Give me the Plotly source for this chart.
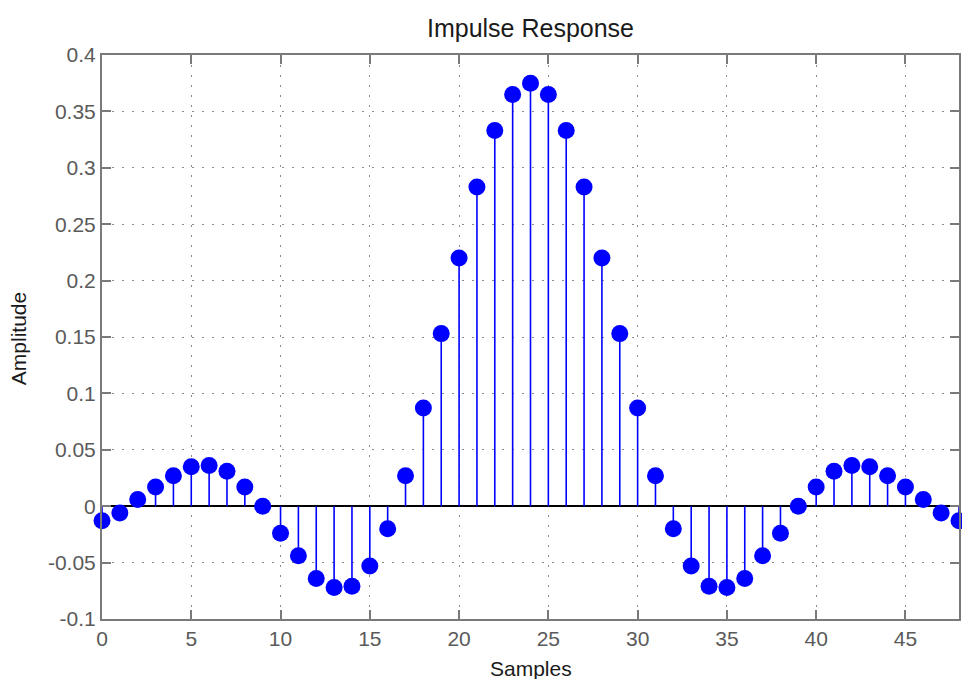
import plotly.graph_objects as go

samples = list(range(49))
half = [-0.013, -0.006, 0.006, 0.017, 0.027, 0.035, 0.036, 0.031, 0.017, 0.000,
        -0.024, -0.044, -0.064, -0.072, -0.071, -0.053, -0.020, 0.027, 0.087,
        0.153, 0.220, 0.283, 0.333, 0.365, 0.375]
amplitude = half + half[-2::-1]

x_ticks = [0, 5, 10, 15, 20, 25, 30, 35, 40, 45]
y_ticks = [-0.1, -0.05, 0, 0.05, 0.1, 0.15, 0.2, 0.25, 0.3, 0.35, 0.4]
y_labels = ["-0.1", "-0.05", "0", "0.05", "0.1", "0.15", "0.2", "0.25", "0.3", "0.35", "0.4"]

stem_x, stem_y = [], []
for xi, yi in zip(samples, amplitude):
    stem_x += [xi, xi, None]
    stem_y += [0, yi, None]

fig = go.Figure()
fig.add_trace(go.Scatter(x=stem_x, y=stem_y, mode="lines",
                         line=dict(color="#0000ff", width=1.6),
                         hoverinfo="skip", showlegend=False, cliponaxis=False))
fig.add_trace(go.Scatter(x=samples, y=amplitude, mode="markers",
                         marker=dict(color="#0000ff", size=17, line=dict(width=0)),
                         showlegend=False, cliponaxis=False))

font = "Liberation Sans, Arial, sans-serif"
axis_common = dict(showline=True, linecolor="#7a7a7a", linewidth=2, mirror="ticks",
                   ticks="inside", ticklen=9, tickwidth=2, tickcolor="#7a7a7a",
                   showgrid=True, gridcolor="#8a8a8a", gridwidth=1, griddash="2px,8px",
                   tickfont=dict(family=font, size=21, color="#5a5a5a"))

fig.update_layout(
    width=962, height=679,
    margin=dict(l=102, r=1, t=55, b=60),
    paper_bgcolor="white", plot_bgcolor="white",
    title=dict(text="Impulse Response", xref="paper", x=0.5, xanchor="center",
               yref="container", y=1 - 28 / 679, yanchor="middle",
               font=dict(family=font, size=25, color="#1a1a1a")),
    xaxis=dict(range=[0, 48], tickvals=x_ticks, zeroline=False, **axis_common),
    yaxis=dict(range=[-0.1, 0.4], tickvals=y_ticks, ticktext=y_labels,
               zeroline=True, zerolinecolor="#000000", zerolinewidth=2, **axis_common),
    annotations=[
        dict(text="Samples", xref="paper", yref="paper", x=0.5, y=-49 / 564,
             xanchor="center", yanchor="middle", showarrow=False,
             font=dict(family=font, size=21, color="#1a1a1a")),
        dict(text="Amplitude", xref="paper", yref="paper", x=-84 / 859, y=(619 - 339) / 564,
             xanchor="center", yanchor="middle", textangle=-90, showarrow=False,
             font=dict(family=font, size=21, color="#1a1a1a")),
    ],
)

fig.write_html("out.html")
